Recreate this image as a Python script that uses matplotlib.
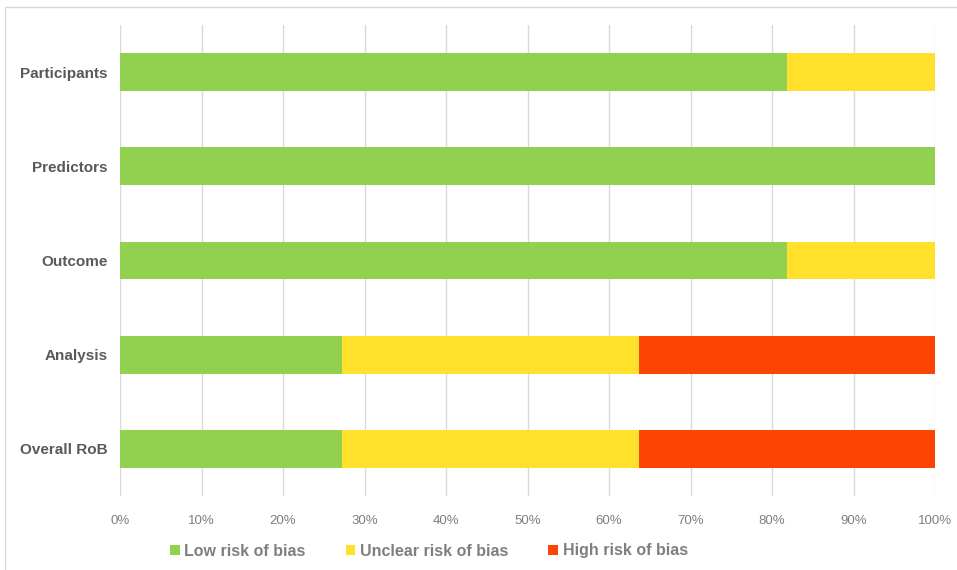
import matplotlib
matplotlib.use("Agg")
import matplotlib.pyplot as plt
from matplotlib.patches import Rectangle
import numpy as np

categories = ["Participants", "Predictors", "Outcome", "Analysis", "Overall RoB"]
low = [81.8, 100.0, 81.8, 27.3, 27.3]
unclear = [18.2, 0.0, 18.2, 36.4, 36.4]
high = [0.0, 0.0, 0.0, 36.3, 36.3]
series_names = ["Low risk of bias", "Unclear risk of bias", "High risk of bias"]
colors = ["#92D050", "#FFE02A", "#FC4505"]
xticks = list(range(0, 101, 10))

W, H = 957, 570
fig = plt.figure(figsize=(W / 100, H / 100), dpi=100)
plt.rcParams['font.family'] = ['Liberation Sans', 'DejaVu Sans']

# outer frame
fig.patches.append(Rectangle((5 / W, -0.1), 1.2, 1 - 7 / H + 0.1, transform=fig.transFigure,
                             fill=False, edgecolor="#D9D9D9", linewidth=1))

ax = fig.add_axes([120 / W, 1 - 496 / H, (935 - 120) / W, (496 - 25) / H])
y = np.arange(len(categories))
left = np.zeros(len(categories))
for vals, name, c in zip([low, unclear, high], series_names, colors):
    ax.barh(y, vals, left=left, height=0.40, color=c, label=name, zorder=3)
    left += np.array(vals)

ax.set_xlim(0, 100)
ax.set_ylim(len(categories) - 0.5, -0.5)
ax.set_yticks(y)
ax.set_yticklabels(categories, fontsize=11, fontweight="bold", color="#595959")
ax.set_xticks(xticks)
ax.set_xticklabels([f"{t}%" for t in xticks], fontsize=9.5, color="#7F7F7F")
ax.tick_params(axis="y", length=0, pad=9)
ax.tick_params(axis="x", length=0, pad=14)
ax.grid(axis="x", color="#D9D9D9", linewidth=1, zorder=0)
for s in ax.spines.values():
    s.set_visible(False)

handles, labels = ax.get_legend_handles_labels()
fig.legend(handles, labels, loc="center", bbox_to_anchor=(429 / W, 1 - 551 / H), ncol=3,
           frameon=False, prop={"size": 11.5, "weight": "bold"}, labelcolor="#7F7F7F",
           handlelength=0.6, handleheight=0.6, handletextpad=0.3, columnspacing=2.5)

fig.savefig("out.png", dpi=100)
